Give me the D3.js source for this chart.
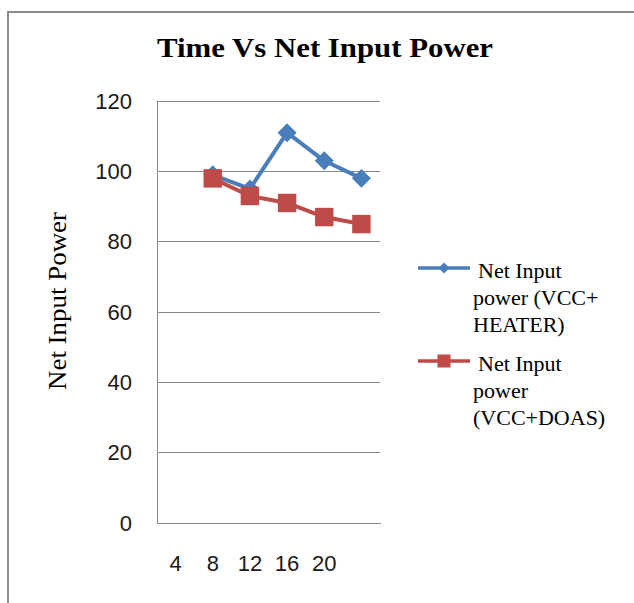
<!DOCTYPE html>
<html>
<head>
<meta charset="utf-8">
<script src="https://cdn.jsdelivr.net/npm/d3@7"></script>
<style>
  html, body { margin: 0; padding: 0; background: #fff; }
  svg { display: block; }
</style>
</head>
<body>
<script>
const categories = ["4", "8", "12", "16", "20", ""];
const heaterValues = [null, 99, 95, 111, 103, 98];
const doasValues = [null, 98, 93, 91, 87, 85];
const yTicks = [0, 20, 40, 60, 80, 100, 120];
const seriesNames = [["Net Input", "power (VCC+", "HEATER)"], ["Net Input", "power", "(VCC+DOAS)"]];

const W = 634, H = 603;
const svg = d3.select("body").append("svg").attr("width", W).attr("height", H);

// outer chart border
svg.append("rect").attr("x", 8).attr("y", 12).attr("width", 640).attr("height", 620)
  .attr("fill", "#fff").attr("stroke", "#8c8c8c").attr("stroke-width", 2);

const plot = { left: 157, right: 380, top: 101, bottom: 523 };
const x = d3.scaleBand().domain(d3.range(categories.length)).range([plot.left, plot.right]);
const y = d3.scaleLinear().domain([0, 120]).range([plot.bottom, plot.top]);

// gridlines
svg.append("g").selectAll("line").data(yTicks.filter(d => d > 0)).join("line")
  .attr("x1", plot.left).attr("x2", plot.right)
  .attr("y1", d => y(d)).attr("y2", d => y(d))
  .attr("stroke", "#868686").attr("stroke-width", 1).attr("shape-rendering", "crispEdges");

// y axis
const yAxis = svg.append("g").attr("transform", `translate(${plot.left},0)`)
  .call(d3.axisLeft(y).tickValues(yTicks).tickSize(0).tickPadding(25));
yAxis.select(".domain").attr("stroke", "#868686").attr("shape-rendering", "crispEdges");
yAxis.selectAll("text").attr("font-family", "'Liberation Sans', Arial, sans-serif")
  .attr("font-size", 22).attr("fill", "#1a1a1a");

// x axis
const xAxis = svg.append("g").attr("transform", `translate(0,${plot.bottom})`)
  .call(d3.axisBottom(x).tickFormat(i => categories[i]).tickSize(0).tickPadding(32));
xAxis.select(".domain").attr("stroke", "#868686").attr("shape-rendering", "crispEdges");
xAxis.selectAll("text").attr("font-family", "'Liberation Sans', Arial, sans-serif")
  .attr("font-size", 22).attr("fill", "#1a1a1a");

const cx = i => x(i) + x.bandwidth() / 2;

const series = [
  { values: heaterValues, color: "#4a7ebb", marker: "diamond" },
  { values: doasValues, color: "#be4b48", marker: "square" }
];

const line = d3.line().defined(d => d.v != null).x(d => cx(d.i)).y(d => y(d.v));

series.forEach(s => {
  const pts = s.values.map((v, i) => ({ v, i }));
  svg.append("path").datum(pts).attr("d", line)
    .attr("fill", "none").attr("stroke", s.color).attr("stroke-width", 4).attr("stroke-linejoin", "round");
  const sym = s.marker === "diamond"
    ? d3.symbol().type(d3.symbolSquare).size(180)
    : d3.symbol().type(d3.symbolSquare).size(340);
  svg.append("g").selectAll("path").data(pts.filter(d => d.v != null)).join("path")
    .attr("d", sym)
    .attr("transform", d => `translate(${cx(d.i)},${y(d.v)})` + (s.marker === "diamond" ? " rotate(45)" : ""))
    .attr("fill", s.color);
});

// title
svg.append("text").attr("x", 325).attr("y", 57).attr("text-anchor", "middle")
  .attr("font-family", "'Liberation Serif', 'Times New Roman', serif").attr("font-weight", "bold")
  .attr("font-size", 27).attr("fill", "#000")
  .attr("textLength", 336).attr("lengthAdjust", "spacingAndGlyphs")
  .text("Time Vs Net Input Power");

// y axis title
svg.append("text").attr("transform", "translate(66,301) rotate(-90)").attr("text-anchor", "middle")
  .attr("font-family", "'Liberation Serif', 'Times New Roman', serif")
  .attr("font-size", 25).attr("fill", "#000")
  .attr("textLength", 178).attr("lengthAdjust", "spacingAndGlyphs")
  .text("Net Input Power");

// legend
const legendY = [268, 361];
series.forEach((s, k) => {
  const g = svg.append("g");
  const ly = legendY[k];
  g.append("line").attr("x1", 418).attr("x2", 470).attr("y1", ly).attr("y2", ly)
    .attr("stroke", s.color).attr("stroke-width", 3.5);
  const sym = s.marker === "diamond"
    ? d3.symbol().type(d3.symbolSquare).size(60)
    : d3.symbol().type(d3.symbolSquare).size(170);
  g.append("path").attr("d", sym)
    .attr("transform", `translate(444,${ly})` + (s.marker === "diamond" ? " rotate(45)" : ""))
    .attr("fill", s.color);
  seriesNames[k].forEach((t, j) => {
    g.append("text").attr("x", j === 0 ? 478 : 473).attr("y", ly + 10 + j * 27)
      .attr("font-family", "'Liberation Serif', 'Times New Roman', serif")
      .attr("font-size", 22).attr("fill", "#000").text(t);
  });
});
</script>
</body>
</html>
